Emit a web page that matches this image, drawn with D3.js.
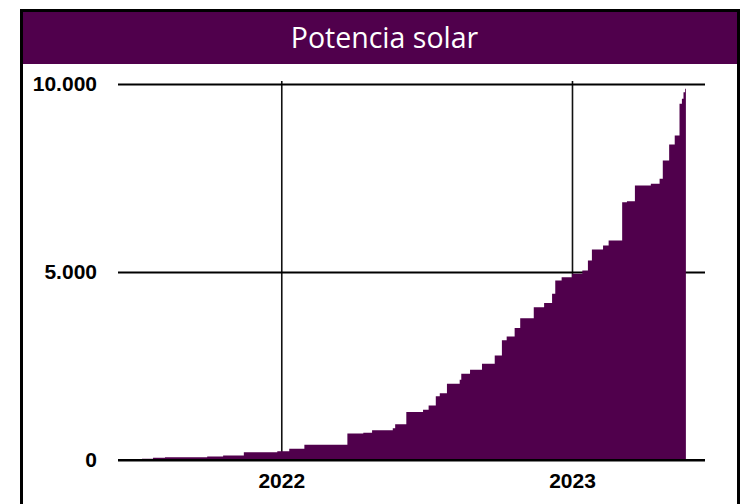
<!DOCTYPE html>
<html>
<head>
<meta charset="utf-8">
<script src="https://cdn.jsdelivr.net/npm/d3@7"></script>
<style>
  body { margin: 0; background: #fff; }
  svg { display: block; }
</style>
</head>
<body>
<svg width="753" height="504"></svg>
<script>
// fechas de cada escalon y potencia acumulada (MW)
var dates = ["2021-07-10","2021-07-24","2021-08-08","2021-09-30","2021-10-20","2021-11-15","2021-12-27",
  "2022-01-11","2022-01-30","2022-03-25","2022-04-14","2022-04-25","2022-05-21","2022-05-24","2022-06-07",
  "2022-06-28","2022-07-05","2022-07-14","2022-07-19","2022-07-28","2022-08-13","2022-08-15","2022-08-26",
  "2022-09-10","2022-09-26","2022-10-05","2022-10-11","2022-10-21","2022-10-28","2022-11-14","2022-11-27",
  "2022-12-07","2022-12-11","2022-12-19","2023-01-01","2023-01-14","2023-01-21","2023-01-26","2023-02-09",
  "2023-02-16","2023-03-05","2023-03-11","2023-03-21","2023-04-10","2023-04-21","2023-04-25","2023-05-03",
  "2023-05-10","2023-05-16","2023-05-19","2023-05-21","2023-05-23","2023-05-24"];
var values = [30,58,74,93,120,207,234,298,404,705,723,793,846,952,1277,1335,1450,1694,1777,2027,
  2133,2293,2399,2559,2780,3186,3285,3511,3769,4064,4176,4420,4774,4862,4952,5040,5306,5599,5705,5838,
  6857,6884,7301,7346,7479,7966,8392,8631,9474,9607,9783,9873,9873];
var yTicks = [0, 5000, 10000];
var xTicks = ["2022-01-01", "2023-01-01"];
var title = "Potencia solar";

var purple = "#50004c";
var parse = d3.timeParse("%Y-%m-%d");

var svg = d3.select("svg");

var data = dates.map(function(d, i) { return { date: parse(d), value: values[i] }; });

var plotLeft = 118, plotRight = 705, plotTop = 84, plotBottom = 460;

var x = d3.scaleTime()
  .domain([parse("2021-06-10"), parse("2023-06-17")])
  .range([plotLeft, plotRight]);

var y = d3.scaleLinear()
  .domain([0, 10000])
  .range([plotBottom, plotTop]);

var es = d3.formatLocale({ decimal: ",", thousands: ".", grouping: [3], currency: ["", "€"] });
var fmt = es.format(",d");

// marco y titulo
svg.append("rect")
  .attr("x", 21.5).attr("y", 10.5)
  .attr("width", 717).attr("height", 540)
  .attr("fill", "#fff")
  .attr("stroke", "#000")
  .attr("stroke-width", 3);

svg.append("rect")
  .attr("x", 23).attr("y", 12)
  .attr("width", 714).attr("height", 52)
  .attr("fill", purple);

svg.append("text")
  .attr("x", 384.5).attr("y", 47.5)
  .attr("text-anchor", "middle")
  .attr("fill", "#fff")
  .style("font-family", "'Open Sans', sans-serif")
  .style("font-size", "28.5px")
  .text(title);

// rejilla vertical (años)
var xAxis = svg.append("g")
  .attr("transform", "translate(0," + plotBottom + ")")
  .call(d3.axisBottom(x)
    .tickValues(xTicks.map(parse))
    .tickFormat(d3.timeFormat("%Y"))
    .tickSize(-(plotBottom - 81))
    .tickPadding(13));
xAxis.select(".domain").remove();
xAxis.selectAll(".tick line").attr("stroke", "#111").attr("stroke-width", 1.6);
xAxis.selectAll(".tick text")
  .style("font-family", "'Liberation Sans', Arial, sans-serif")
  .style("font-weight", "bold")
  .style("font-size", "21px")
  .attr("fill", "#000");

// rejilla horizontal
var yAxis = svg.append("g")
  .attr("transform", "translate(" + plotLeft + ",0)")
  .call(d3.axisLeft(y)
    .tickValues(yTicks)
    .tickFormat(fmt)
    .tickSize(-(plotRight - plotLeft))
    .tickPadding(21));
yAxis.select(".domain").remove();
yAxis.selectAll(".tick line").attr("stroke", "#000").attr("stroke-width", 2);
yAxis.selectAll(".tick text")
  .style("font-family", "'Liberation Sans', Arial, sans-serif")
  .style("font-weight", "bold")
  .style("font-size", "21px")
  .attr("fill", "#000");

// area escalonada
var area = d3.area()
  .curve(d3.curveStepAfter)
  .x(function(d) { return x(d.date); })
  .y0(y(0))
  .y1(function(d) { return y(d.value); });

svg.append("path")
  .datum(data)
  .attr("d", area)
  .attr("fill", purple);

// linea base
svg.append("line")
  .attr("x1", plotLeft).attr("x2", plotRight)
  .attr("y1", y(0)).attr("y2", y(0))
  .attr("stroke", "#000")
  .attr("stroke-width", 2);
</script>
</body>
</html>
